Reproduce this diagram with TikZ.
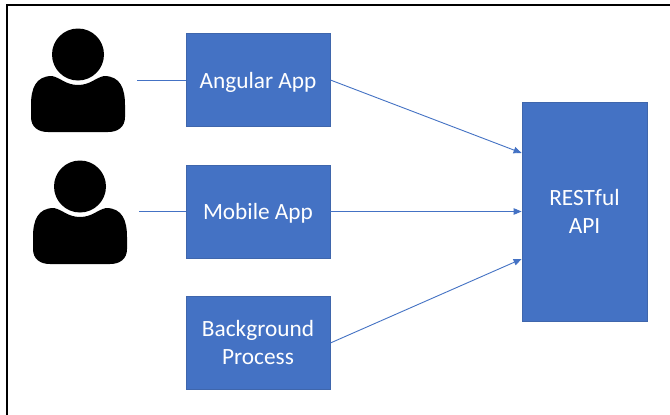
\documentclass[tikz,border=0pt]{standalone}
\usepackage{fontspec}
\setmainfont{Carlito}
\usetikzlibrary{arrows.meta}
\definecolor{boxblue}{HTML}{4472C4}
\definecolor{boxedge}{HTML}{3F66AC}
\tikzset{
  x=1pt,y=-1pt,
  appbox/.style={draw=boxedge,fill=boxblue,line width=0.8pt,text=white,minimum width=144pt,minimum height=93pt,align=center,font=\fontsize{23.3}{28}\selectfont,inner sep=0pt},
  oneline/.style={text height=16pt,text depth=0pt},
  link/.style={draw=boxblue,line width=0.9pt},
  arrowlink/.style={link,-{Triangle[length=8pt,width=6.5pt]}},
  person/.style={fill=black,draw=none}
}
\newcommand{\personicon}[2]{%
  \fill[person] (#1,#2-5.5) circle (26);
  \fill[person] (#1-47,#2+57) -- (#1-47,#2+45)
    .. controls (#1-47,#2+28) and (#1-42,#2+16) .. (#1-26,#2+16)
    .. controls (#1-17,#2+18) and (#1-12,#2+25) .. (#1,#2+25)
    .. controls (#1+12,#2+25) and (#1+17,#2+18) .. (#1+26,#2+16)
    .. controls (#1+42,#2+16) and (#1+47,#2+28) .. (#1+47,#2+45)
    -- (#1+47,#2+57)
    .. controls (#1+47,#2+67) and (#1+40,#2+72) .. (#1+30,#2+72)
    -- (#1-30,#2+72)
    .. controls (#1-40,#2+72) and (#1-47,#2+67) .. (#1-47,#2+57) -- cycle;
}
\begin{document}
\begin{tikzpicture}
\useasboundingbox (0,0) rectangle (670,415);
\fill[white] (0,0) rectangle (670,415);
\draw[black,line width=2.6pt] (7,415) -- (7,5) -- (670,5);
\personicon{78}{60}
\personicon{80}{192}
\node[appbox,oneline] (angular) at (258,80) {Angular App};
\node[appbox,oneline] (mobile) at (258,211.5) {Mobile App};
\node[appbox] (background) at (258,342.5) {Background\\Process};
\node[appbox,minimum width=125pt,minimum height=219pt] (api) at (584.5,211.5) {RESTful\\API};
\coordinate (user1) at (137,80);
\coordinate (user2) at (139,211.5);
\draw[link] (user1) -- (angular.west);
\draw[link] (user2) -- (mobile.west);
\draw[arrowlink] (angular.east) -- (api.west |- 0,153);
\draw[arrowlink] (mobile.east) -- (api.west);
\draw[arrowlink] (background.east |- 0,343) -- (api.west |- 0,259);
\end{tikzpicture}
\end{document}
